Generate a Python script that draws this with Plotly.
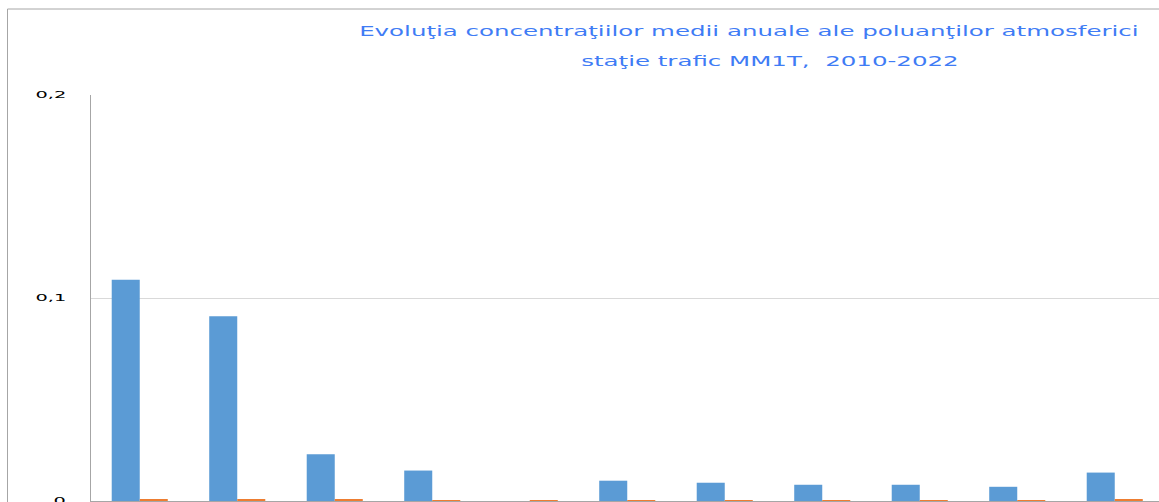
import plotly.graph_objects as go

# ---- data ----
categories = ["2010", "2011", "2012", "2013", "2014", "2015",
              "2016", "2017", "2018", "2019", "2020"]
series_a_name = "Pb"
series_a = [0.109, 0.091, 0.023, 0.015, 0.0, 0.010, 0.009, 0.008, 0.008, 0.007, 0.014]
series_b_name = "Cd"
series_b = [0.0007, 0.0009, 0.0005, 0.0002, 0.0003, 0.0001, 0.0001, 0.0002, 0.0002, 0.0002, 0.0007]
y_ticks = [0, 0.1, 0.2]
title_line1 = "Evoluţia concentraţiilor medii anuale ale poluanţilor atmosferici"
title_line2 = "staţie trafic MM1T,  2010-2022"

# ---- geometry (pixels of the reference) ----
W, H = 1159, 502
L, R, T, B = 91, 0, 95, 1
plot_w = W - L - R
plot_h = H - T - B
cat_px = 97.5

def px_x(p):
    return (p - L) / plot_w

def px_y(p):
    return (H - B - p) / plot_h

fig = go.Figure()
fig.add_trace(go.Bar(x=categories, y=series_a, name=series_a_name,
                     marker=dict(color="#5B9BD5", line=dict(width=0))))
fig.add_trace(go.Bar(x=categories, y=series_b, name=series_b_name,
                     marker=dict(color="#ED7D31", line=dict(width=0))))

title_color = "#3F7CF5"
fig.add_annotation(text=title_line1, xref="paper", yref="paper",
                   x=px_x(749), y=px_y(31), xanchor="center", yanchor="middle",
                   showarrow=False,
                   font=dict(family="DejaVu Sans", size=14, color=title_color))
fig.add_annotation(text=title_line2, xref="paper", yref="paper",
                   x=px_x(769.5), y=px_y(61), xanchor="center", yanchor="middle",
                   showarrow=False,
                   font=dict(family="DejaVu Sans", size=14, color=title_color))

# outer chart border (top-left part visible)
fig.add_shape(type="rect", xref="paper", yref="paper",
              x0=px_x(7.5), x1=1.1, y0=-0.1, y1=px_y(9),
              line=dict(color="#A6A6A6", width=1), fillcolor="rgba(0,0,0,0)",
              layer="below")

fig.update_layout(
    width=W, height=H, autosize=False,
    margin=dict(l=L, r=R, t=T, b=B, pad=0, autoexpand=False),
    paper_bgcolor="white", plot_bgcolor="white",
    showlegend=False,
    barmode="group", bargap=0.425, bargroupgap=0,
    separators=", ",
    xaxis=dict(type="category", range=[-0.5, -0.5 + plot_w / cat_px],
               showline=True, linecolor="#A6A6A6", linewidth=1,
               ticks="outside", tickson="boundaries", ticklen=5,
               tickcolor="#A6A6A6", showticklabels=False, showgrid=False,
               zeroline=False, fixedrange=True, automargin=False),
    yaxis=dict(range=[0, 0.2], tickvals=y_ticks, showgrid=True,
               gridcolor="#D9D9D9", gridwidth=1,
               showline=True, linecolor="#A6A6A6", linewidth=1,
               zeroline=False, ticks="", ticklabelstandoff=22,
               ticklabeloverflow="allow", automargin=False,
               tickfont=dict(family="DejaVu Sans", size=9, color="#000000"),
               fixedrange=True),
)

post = """
document.body.style.margin='0';
document.body.style.overflow='hidden';
var s=document.createElement('style');
s.textContent='.annotation-text{scale:1.75 1;transform-box:fill-box;transform-origin:center;}';
document.head.appendChild(s);
document.querySelectorAll('.ytick text').forEach(function(t){
  var b=t.getBBox();
  var tr=t.getAttribute('transform')||'';
  var rx=b.x+b.width, cy=b.y+b.height/2;
  t.setAttribute('transform', tr+' translate('+rx+','+cy+') scale(2.15,1) translate('+(-rx)+','+(-cy)+')');
});
"""

fig.write_html("out.html", post_script=post, config={"displayModeBar": False})
